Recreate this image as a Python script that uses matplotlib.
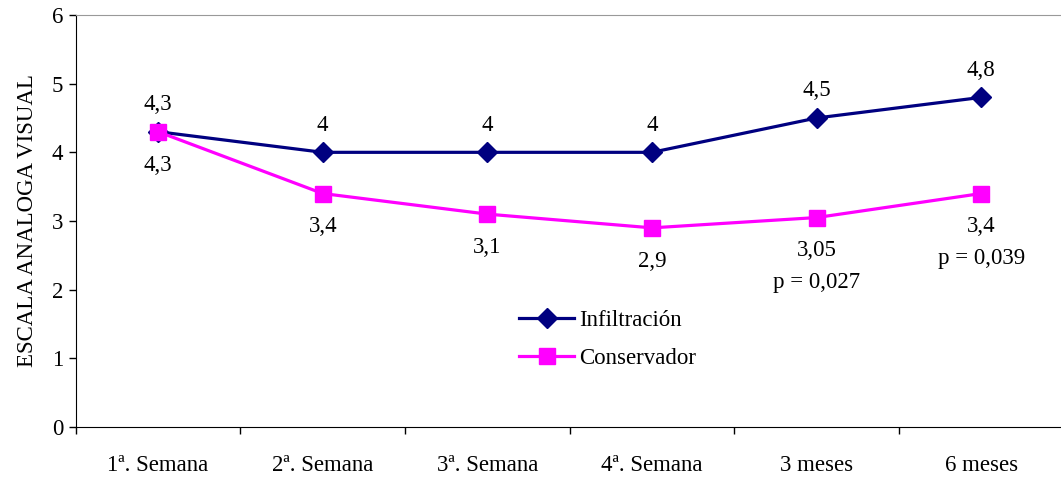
import matplotlib.pyplot as plt

plt.rcParams["font.family"] = ["Liberation Serif", "DejaVu Serif"]

categories = ["1ª. Semana", "2ª. Semana", "3ª. Semana", "4ª. Semana", "3 meses", "6 meses"]
infiltracion = [4.3, 4, 4, 4, 4.5, 4.8]
conservador = [4.3, 3.4, 3.1, 2.9, 3.05, 3.4]
infil_labels = ["4,3", "4", "4", "4", "4,5", "4,8"]
cons_labels = ["4,3", "3,4", "3,1", "2,9", "3,05\np = 0,027", "3,4\np = 0,039"]

FS = 16.5

fig = plt.figure(figsize=(10.61, 4.79), dpi=100)
ax = fig.add_axes([0.0714, 0.1086, 0.931, 0.8601])

x = list(range(len(categories)))
ax.plot(x, infiltracion, color="#000080", lw=2.3, marker="D", ms=10.5, label="Infiltración", zorder=3)
ax.plot(x, conservador, color="#FF00FF", lw=2.3, marker="s", ms=11.5, label="Conservador", zorder=4)

for i, (v, t) in enumerate(zip(infiltracion, infil_labels)):
    ax.annotate(t, (i, v), xytext=(0, 12), textcoords="offset points",
                ha="center", va="bottom", fontsize=FS)
for i, (v, t) in enumerate(zip(conservador, cons_labels)):
    ax.annotate(t, (i, v), xytext=(0, -16.5), textcoords="offset points",
                ha="center", va="top", fontsize=FS, linespacing=1.65)

ax.set_xlim(-0.5, len(categories) - 0.5)
ax.set_ylim(0, 6)
ax.set_yticks(range(7))
ax.set_xticks(x)
ax.set_xticklabels(categories, fontsize=FS)
ax.set_xticks([i - 0.5 for i in range(len(categories) + 1)], minor=True)
ax.tick_params(axis="x", which="major", length=0, pad=20)
ax.tick_params(axis="x", which="minor", length=5, direction="out", width=1)
ax.tick_params(axis="y", labelsize=FS, length=5, width=1, direction="out", pad=4)
ax.set_ylabel("ESCALA ANALOGA VISUAL", fontsize=FS, labelpad=10)

ax.spines["top"].set_color("#999999")
ax.spines["right"].set_visible(False)
for s in ["left", "bottom"]:
    ax.spines[s].set_color("black")

ax.legend(loc="upper left", bbox_to_anchor=(0.449, 0.285), frameon=False, fontsize=FS,
          handlelength=2.4, labelspacing=0.75, handletextpad=0.2, borderaxespad=0,
          borderpad=0)

fig.savefig("out.png", dpi=100)
